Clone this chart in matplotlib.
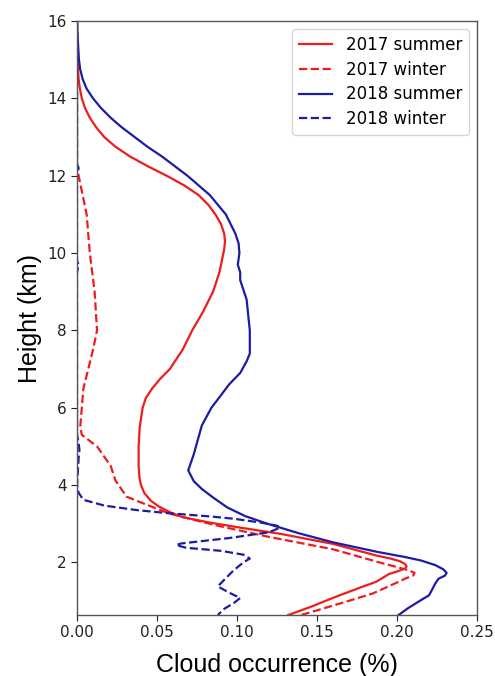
import matplotlib
matplotlib.use("Agg")
import matplotlib.pyplot as plt

# Vertical cloud occurrence profiles (x = occurrence, y = height in km)
h_2017_summer = [16.0, 15.5, 15.0, 14.75, 14.5, 14.25, 14.0, 13.75, 13.5, 13.25, 13.0, 12.75, 12.5,
                 12.25, 12.0, 11.75, 11.5, 11.25, 11.0, 10.75, 10.5, 10.3, 10.1, 9.8, 9.5, 9.0, 8.5,
                 8.0, 7.5, 7.0, 6.75, 6.5, 6.25, 6.0, 5.5, 5.0, 4.5, 4.2, 4.0, 3.8, 3.6,
                 3.45, 3.30, 3.17, 3.03, 2.90, 2.74, 2.48, 2.18, 2.10, 2.03, 1.96, 1.90, 1.84,
                 1.78, 1.70, 1.60, 1.50, 1.35, 1.10, 0.85, 0.64]
x_2017_summer = [0.0, 0.0, 0.0003, 0.0006, 0.001, 0.0018, 0.003, 0.005, 0.008, 0.012, 0.017, 0.024, 0.033,
                 0.044, 0.056, 0.067, 0.076, 0.082, 0.0865, 0.090, 0.092, 0.0925, 0.092, 0.0905, 0.089, 0.085, 0.079,
                 0.072, 0.066, 0.058, 0.052, 0.047, 0.043, 0.041, 0.0392, 0.0385, 0.0385, 0.039, 0.040, 0.042, 0.046,
                 0.051, 0.058, 0.066, 0.083, 0.102, 0.127, 0.160, 0.187, 0.196, 0.202, 0.205, 0.206, 0.205,
                 0.201, 0.195, 0.191, 0.187, 0.177, 0.161, 0.146, 0.132]

h_2017_winter = [16.0, 13.0, 12.3, 12.0, 11.5, 11.0, 10.0, 9.0, 8.0, 7.5, 7.0, 6.5, 6.0, 5.5, 5.3,
                 5.0, 4.5, 4.12, 4.0, 3.7, 3.6, 3.5, 3.26, 3.08, 2.93, 2.66, 2.34, 2.0, 1.88, 1.80,
                 1.73, 1.66, 1.58, 1.48, 1.20, 1.02, 0.81, 0.64]
x_2017_winter = [0.0, 0.0, 0.0, 0.001, 0.0035, 0.006, 0.008, 0.011, 0.0125, 0.010, 0.007, 0.004, 0.003, 0.002, 0.003,
                 0.0125, 0.021, 0.024, 0.026, 0.031, 0.037, 0.043, 0.058, 0.075, 0.090, 0.120, 0.160, 0.189, 0.200, 0.207,
                 0.211, 0.210, 0.205, 0.200, 0.185, 0.171, 0.154, 0.140]

h_2018_summer = [16.0, 15.5, 15.0, 14.75, 14.5, 14.25, 14.0, 13.75, 13.5, 13.25, 13.0, 12.75, 12.5,
                 12.25, 12.0, 11.75, 11.5, 11.25, 11.0, 10.75, 10.5, 10.25, 10.0,
                 9.7, 9.5, 9.3, 8.8, 8.0, 7.4, 7.2, 6.9, 6.6, 6.27, 6.0, 5.54, 4.8, 4.38, 4.1, 3.9, 3.68,
                 3.42, 3.2, 3.0, 2.75, 2.52, 2.27, 2.14, 2.05, 1.93, 1.82, 1.73, 1.66, 1.58, 1.46,
                 1.30, 1.15, 1.0, 0.82, 0.64]
x_2018_summer = [0.0, 0.0005, 0.0012, 0.002, 0.0035, 0.006, 0.010, 0.015, 0.021, 0.028, 0.036, 0.044, 0.053,
                 0.061, 0.069, 0.076, 0.083, 0.088, 0.093, 0.096, 0.099, 0.101, 0.1015,
                 0.1005, 0.102, 0.102, 0.106, 0.108, 0.108, 0.106, 0.102, 0.095, 0.089, 0.084, 0.078, 0.073, 0.0695, 0.073, 0.078, 0.085,
                 0.094, 0.105, 0.119, 0.139, 0.160, 0.188, 0.205, 0.215, 0.224, 0.229, 0.231, 0.230, 0.226, 0.224,
                 0.222, 0.220, 0.214, 0.207, 0.201]

h_2018_winter = [16.0, 12.3, 12.2, 12.0, 9.8, 9.7, 9.5, 5.3, 5.1, 4.9, 4.7, 4.0, 3.8, 3.62, 3.47,
                 3.35, 3.27, 3.19, 3.13, 3.03, 2.95, 2.90, 2.78, 2.63, 2.49, 2.45, 2.38, 2.30, 2.20,
                 2.10, 2.00, 1.80, 1.55, 1.38, 1.22, 1.08, 0.95, 0.80, 0.64]
x_2018_winter = [0.0, 0.0, 0.001, 0.0, 0.0, 0.001, 0.0, 0.0, 0.001, 0.0015, 0.001, 0.0, 0.001, 0.004, 0.017,
                 0.038, 0.058, 0.083, 0.098, 0.115, 0.125, 0.127, 0.120, 0.095, 0.065, 0.062, 0.068, 0.090, 0.104,
                 0.108, 0.104, 0.098, 0.092, 0.088, 0.095, 0.102, 0.098, 0.092, 0.088]

RED = "#ee1c1c"
BLUE = "#1c1ca6"

fig = plt.figure(figsize=(4.95, 6.76), dpi=100)
ax = fig.add_axes([0.1556, 0.0902, 0.808, 0.8787])

ax.plot(x_2017_summer, h_2017_summer, color=RED, lw=1.6, ls='-', label='2017 summer')
ax.plot(x_2017_winter, h_2017_winter, color=RED, lw=1.6, ls='--', label='2017 winter')
ax.plot(x_2018_summer, h_2018_summer, color=BLUE, lw=1.6, ls='-', label='2018 summer')
ax.plot(x_2018_winter, h_2018_winter, color=BLUE, lw=1.6, ls='--', label='2018 winter')

ax.set_xlim(0, 0.25)
ax.set_ylim(0.64, 16)
ax.set_xticks([0.0, 0.05, 0.10, 0.15, 0.20, 0.25])
ax.set_xticklabels(['0.00', '0.05', '0.10', '0.15', '0.20', '0.25'])
ax.set_yticks([2, 4, 6, 8, 10, 12, 14, 16])
ax.tick_params(labelsize=11, colors='#222222', length=4)
for s in ax.spines.values():
    s.set_color('#555555')
    s.set_linewidth(1.0)

ax.set_xlabel('Cloud occurrence (%)', fontsize=18, family='Liberation Sans', labelpad=9)
ax.set_ylabel('Height (km)', fontsize=18, family='Liberation Sans')

ax.legend(loc='upper right', fontsize=12, frameon=True, labelspacing=0.4)

plt.savefig('out.png', dpi=100)
